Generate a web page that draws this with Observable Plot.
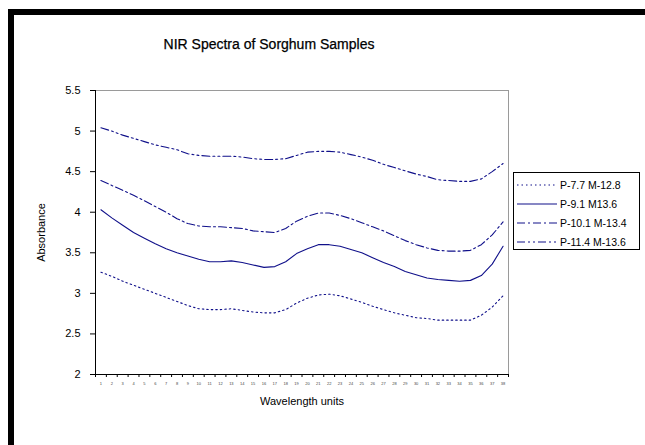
<!DOCTYPE html>
<html>
<head>
<meta charset="utf-8">
<script src="https://cdn.jsdelivr.net/npm/d3@7"></script>
<script src="https://cdn.jsdelivr.net/npm/@observablehq/plot@0.6"></script>
<style>
  html, body { margin: 0; padding: 0; background: #fff; width: 645px; height: 445px; overflow: hidden; }
  body { position: relative; font-family: "Liberation Sans", Arial, sans-serif; }
  #frame { position: absolute; left: 8px; top: 9px; width: 700px; height: 500px; border-top: 6px solid #000; border-left: 6px solid #000; }
  #chart { position: absolute; left: 0; top: 0; }
  #title { position: absolute; left: 0; width: 538px; top: 36px; text-align: center; font-size: 14px; color: #000; -webkit-text-stroke: 0.25px #000; }
  #legend { position: absolute; left: 513px; top: 172px; width: 125px; height: 76px; border: 1px solid #000; background: #fff; font-size: 10.5px; }
  .item { position: absolute; left: 3px; height: 14px; display: flex; align-items: center; }
  .item svg { margin-right: 3px; }
</style>
</head>
<body>
<div id="frame"></div>
<div id="chart"></div>
<div id="title">NIR Spectra of Sorghum Samples</div>
<div id="legend"></div>
<script>
// Category tick labels (wavelength units, unreadable in the reference: indices)
const xLabels = d3.range(1, 39).map(String);
const yTicks = [2, 2.5, 3, 3.5, 4, 4.5, 5, 5.5];
const seriesNames = ["P-7.7 M-12.8", "P-9.1 M13.6", "P-10.1 M-13.4", "P-11.4 M-13.6"];

const p77 = [3.26,3.21,3.15,3.10,3.05,3.00,2.95,2.90,2.85,2.81,2.80,2.80,2.81,2.79,2.77,2.76,2.76,2.80,2.88,2.94,2.98,2.99,2.97,2.93,2.89,2.84,2.80,2.76,2.73,2.70,2.69,2.67,2.67,2.67,2.67,2.73,2.83,2.97];
const p91 = [4.03,3.93,3.84,3.75,3.68,3.61,3.55,3.50,3.46,3.42,3.39,3.39,3.40,3.38,3.35,3.32,3.33,3.39,3.49,3.55,3.60,3.60,3.58,3.54,3.50,3.44,3.38,3.33,3.27,3.23,3.19,3.17,3.16,3.15,3.16,3.22,3.36,3.58];
const p101 = [4.39,4.33,4.27,4.21,4.14,4.07,4.00,3.92,3.86,3.83,3.82,3.82,3.81,3.80,3.77,3.76,3.75,3.80,3.89,3.95,3.99,3.99,3.96,3.92,3.87,3.82,3.77,3.71,3.65,3.60,3.56,3.53,3.52,3.52,3.53,3.60,3.72,3.88];
const p114 = [5.04,5.00,4.95,4.91,4.87,4.83,4.80,4.77,4.72,4.70,4.69,4.69,4.69,4.68,4.66,4.65,4.65,4.66,4.70,4.74,4.75,4.75,4.74,4.71,4.68,4.64,4.59,4.55,4.51,4.47,4.44,4.40,4.39,4.38,4.38,4.41,4.50,4.60];

const seriesValues = [p77, p91, p101, p114];
const dashes = ["1.5,3", null, "8,3,2,3", "8,3,2,3,2,3"];
const lineColor = "#10108a";

const lineMarks = seriesValues.map((vals, s) =>
  Plot.line(vals.map((v, i) => ({x: i + 1, y: v})), {
    x: "x", y: "y", stroke: lineColor, strokeWidth: 1.1,
    strokeDasharray: dashes[s] ?? undefined
  })
);

const chart = Plot.plot({
  width: 645, height: 445,
  marginLeft: 95, marginRight: 137, marginTop: 90, marginBottom: 71,
  style: {fontFamily: '"Liberation Sans", Arial, sans-serif', background: "transparent", color: "#000"},
  x: {type: "linear", domain: [0.5, xLabels.length + 0.5]},
  y: {domain: [2, 5.5]},
  marks: [
    Plot.frame({stroke: "#9a9a9a"}),
    Plot.axisY({ticks: yTicks, tickSize: 5, tickPadding: 10, fontSize: 11, label: null, tickFormat: d => String(d), stroke: "#000"}),
    Plot.text(["Absorbance"], {frameAnchor: "left", dx: -54, rotate: -90, textAnchor: "middle", fontSize: 11, fill: "#000"}),
    Plot.axisX({ticks: d3.range(0.5, xLabels.length + 1, 1), tickSize: 3, tickFormat: () => "", label: null}),
    Plot.axisX({ticks: d3.range(1, xLabels.length + 1), tickSize: 0, tickPadding: 8, fontSize: 4, tickFormat: i => xLabels[i - 1], label: null, fill: "#444"}),
    Plot.text(["Wavelength units"], {frameAnchor: "bottom", dy: 30, fontSize: 11, fill: "#000"}),
    Plot.ruleX([0.5], {stroke: "#000"}),
    Plot.ruleY([2], {stroke: "#000"}),
    ...lineMarks
  ]
});
document.getElementById("chart").appendChild(chart);

// Legend
const legend = document.getElementById("legend");
seriesNames.forEach((name, s) => {
  const item = document.createElement("div");
  item.className = "item";
  item.style.top = (5 + s * 19) + "px";
  const dash = dashes[s] ? `stroke-dasharray="${dashes[s]}"` : "";
  item.innerHTML = `<svg width="40" height="6"><line x1="0" y1="3" x2="40" y2="3" stroke="${lineColor}" stroke-width="1.1" ${dash}/></svg><span>${name}</span>`;
  legend.appendChild(item);
});
</script>
</body>
</html>
